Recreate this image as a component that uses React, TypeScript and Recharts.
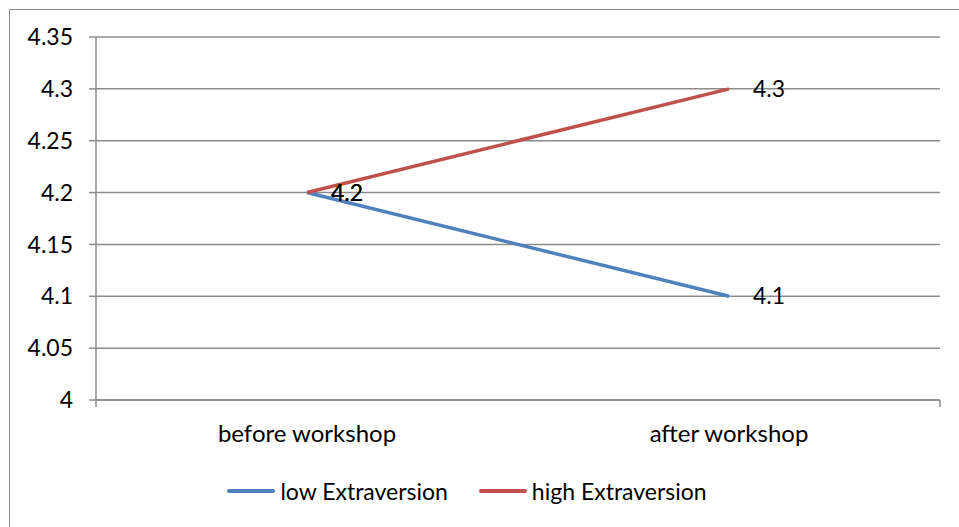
import React from "react";
import {
  LineChart,
  Line,
  XAxis,
  YAxis,
  CartesianGrid,
  Legend,
  LabelList,
} from "recharts";

const categories = ["before workshop", "after workshop"];
const lowExtraversion = [4.2, 4.1];
const highExtraversion = [4.2, 4.3];
const yTicks = [4, 4.05, 4.1, 4.15, 4.2, 4.25, 4.3, 4.35];
const seriesNames = ["low Extraversion", "high Extraversion"];
const seriesColors = ["#4F81BD", "#C0504D"];

const FONT = "Lato, 'Open Sans', sans-serif";
const GRID = "#8c8c8c";
const W = 959;
const H = 527;
const PLOT_LEFT = 96;
const PLOT_RIGHT = 940;

const data = categories.map((name, i) => ({
  name,
  low: lowExtraversion[i],
  high: highExtraversion[i],
}));

// tick marks sit between categories, like Excel
const boundaryTicks = Array.from({ length: categories.length + 1 }, (_, i) => i);
const halfBand = (PLOT_RIGHT - PLOT_LEFT) / categories.length / 2;

function LegendContent() {
  return (
    <div style={{ display: "flex", justifyContent: "center", gap: 31, fontFamily: FONT, fontSize: 23 }}>
      {seriesNames.map((n, i) => (
        <div key={n} style={{ display: "flex", alignItems: "center" }}>
          <span
            style={{
              display: "inline-block",
              width: 48,
              height: 4,
              borderRadius: 2,
              background: seriesColors[i],
              marginRight: 5,
            }}
          />
          <span style={{ color: "#000" }}>{n}</span>
        </div>
      ))}
    </div>
  );
}

export default function App() {
  return (
    <div style={{ position: "absolute", left: 0, top: 0, width: W, height: H, overflow: "hidden", background: "#fff" }}>
      <div
        style={{
          position: "absolute",
          left: 9,
          top: 9,
          width: W + 40,
          height: H + 40,
          border: "1.5px solid #8c8c8c",
        }}
      />
      <div style={{ position: "absolute", left: 0, top: 0 }}>
        <LineChart width={W} height={H} data={data} margin={{ top: 37, right: W - PLOT_RIGHT, bottom: 67, left: 0 }}>
          <CartesianGrid xAxisId="cat" horizontal vertical={false} stroke={GRID} strokeWidth={1.5} />
          <XAxis
            xAxisId="cat"
            dataKey="name"
            padding={{ left: halfBand, right: halfBand }}
            axisLine={false}
            tickLine={false}
            tickSize={0}
            tickMargin={24}
            height={59}
            interval={0}
            tick={{ fill: "#000", fontSize: 24, fontFamily: FONT }}
          />
          <XAxis
            xAxisId="a"
            type="number"
            domain={[0, categories.length]}
            ticks={boundaryTicks}
            interval={0}
            tickFormatter={() => ""}
            tickSize={7}
            height={1}
            stroke={GRID}
            strokeWidth={1.5}
            allowDataOverflow
          />
          <YAxis
            width={PLOT_LEFT}
            domain={[4, 4.35]}
            ticks={yTicks}
            interval={0}
            tickSize={7}
            tickMargin={16}
            stroke={GRID}
            strokeWidth={1.5}
            tick={{ fill: "#000", fontSize: 23, fontFamily: FONT }}
          />
          <Legend
            verticalAlign="middle"
            align="center"
            layout="horizontal"
            wrapperStyle={{ top: 477, left: 0, width: 934 }}
            content={<LegendContent />}
          />
          <Line
            xAxisId="cat"
            type="linear"
            dataKey="low"
            name={seriesNames[0]}
            stroke={seriesColors[0]}
            strokeWidth={3.5}
            dot={false}
            isAnimationActive={false}
          >
            <LabelList dataKey="low" position="right" offset={24} fill="#000" fontSize={23} fontFamily={FONT} />
          </Line>
          <Line
            xAxisId="cat"
            type="linear"
            dataKey="high"
            name={seriesNames[1]}
            stroke={seriesColors[1]}
            strokeWidth={3.5}
            dot={false}
            isAnimationActive={false}
          >
            <LabelList dataKey="high" position="right" offset={24} fill="#000" fontSize={23} fontFamily={FONT} />
          </Line>
        </LineChart>
      </div>
    </div>
  );
}
